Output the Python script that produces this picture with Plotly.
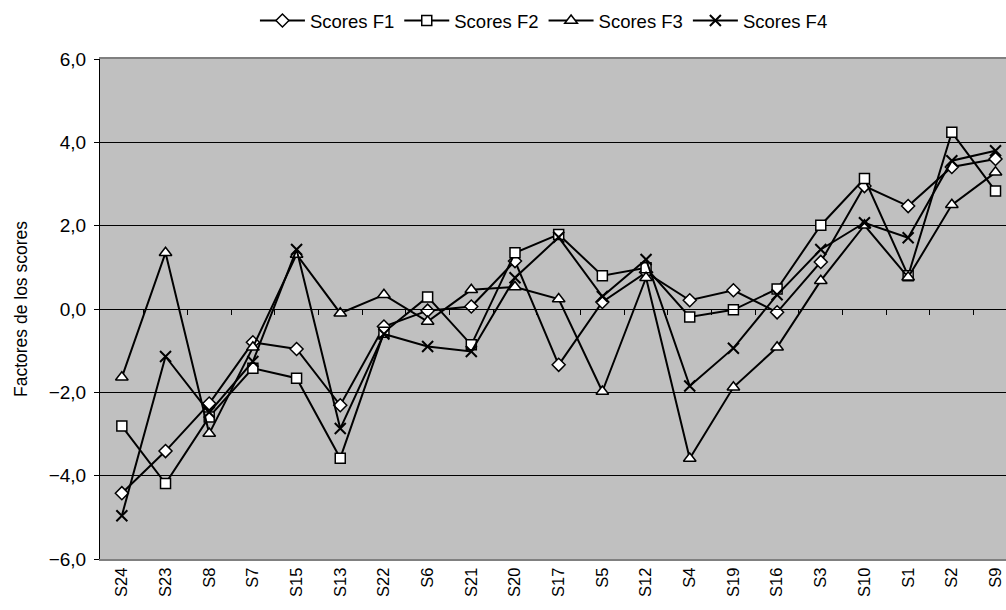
import plotly.graph_objects as go

categories = ["S24", "S23", "S8", "S7", "S15", "S13", "S22", "S6", "S21", "S20", "S17",
              "S5", "S12", "S4", "S19", "S16", "S3", "S10", "S1", "S2", "S9"]
scores_f1 = [-4.42, -3.41, -2.27, -0.80, -0.96, -2.31, -0.42, -0.04, 0.06, 1.15, -1.34,
             0.17, 0.88, 0.21, 0.45, -0.08, 1.13, 2.95, 2.47, 3.41, 3.60]
scores_f2 = [-2.81, -4.19, -2.59, -1.42, -1.66, -3.58, -0.56, 0.29, -0.86, 1.35, 1.79,
             0.80, 0.99, -0.19, -0.02, 0.48, 2.01, 3.13, 0.80, 4.24, 2.83]
scores_f3 = [-1.64, 1.35, -2.99, -0.92, 1.31, -0.10, 0.34, -0.30, 0.46, 0.53, 0.24,
             -1.98, 0.75, -3.59, -1.88, -0.92, 0.68, 2.01, 0.76, 2.50, 3.28]
scores_f4 = [-4.96, -1.14, -2.48, -1.26, 1.43, -2.87, -0.60, -0.90, -1.02, 0.75, 1.72,
             0.30, 1.19, -1.85, -0.94, 0.34, 1.43, 2.07, 1.71, 3.56, 3.80]
y_ticks = [-6, -4, -2, 0, 2, 4, 6]

series = [
    ("Scores F1", scores_f1, "diamond", 10, "white", 1.5),
    ("Scores F2", scores_f2, "square", 10, "white", 1.5),
    ("Scores F3", scores_f3, "triangle-up", 11, "white", 1.5),
    ("Scores F4", scores_f4, "x-thin-open", 11, "black", 2),
]

x_range = [-0.5, 20.24]

fig = go.Figure()
idx = list(range(len(categories)))
for name, vals, sym, size, fill, lw in series:
    fig.add_trace(go.Scatter(
        x=idx, y=vals, name=name, mode="lines+markers", cliponaxis=False,
        line=dict(color="black", width=2),
        marker=dict(symbol=sym, size=size, color=fill,
                    line=dict(color="black", width=lw)),
    ))

# invisible trace to activate secondary x axis (axis line at y=0 with ticks between categories)
fig.add_trace(go.Scatter(x=[0], y=[0], xaxis="x2", showlegend=False,
                         mode="markers", marker=dict(opacity=0), hoverinfo="skip"))

fig.update_layout(
    width=1006, height=610,
    margin=dict(l=100, r=0, t=59, b=51, autoexpand=False),
    paper_bgcolor="white",
    plot_bgcolor="#C0C0C0",
    separators=",.",
    font=dict(family="Liberation Sans, Arial, sans-serif", color="black", size=17),
    showlegend=True,
    legend=dict(orientation="h", x=0.49, xanchor="center", y=1.076, yanchor="middle",
                font=dict(size=18.5), bgcolor="rgba(0,0,0,0)",
                itemwidth=45, tracegroupgap=0),
    xaxis=dict(
        range=x_range, tickmode="array", tickvals=idx, ticktext=categories,
        tickangle=-90, ticks="", showgrid=False, zeroline=False, automargin=False,
        showline=True, linecolor="#808080", linewidth=2, mirror=True,
        tickfont=dict(size=16.5), ticklabeloverflow="allow",
    ),
    xaxis2=dict(
        overlaying="x", anchor="free", position=0.5, side="bottom",
        range=x_range, tickmode="array",
        tickvals=[i + 0.5 for i in idx], showticklabels=False,
        ticks="outside", ticklen=5, tickcolor="black", tickwidth=1,
        showline=True, linecolor="black", linewidth=1, showgrid=False, zeroline=False,
        automargin=False,
    ),
    yaxis=dict(
        range=[-6, 6], tickmode="array", tickvals=y_ticks, tickformat=".1f",
        showgrid=True, gridcolor="black", gridwidth=1, zeroline=False,
        showline=True, linecolor="black", linewidth=1, automargin=False,
        ticks="outside", ticklen=5, tickcolor="black", ticklabelstandoff=4,
        title=dict(text="Factores de los scores", font=dict(size=17.5), standoff=16),
        tickfont=dict(size=19),
    ),
)

fig.write_html(
    "out.html",
    config={"displayModeBar": False},
    post_script="document.body.style.margin='0';document.body.style.overflow='hidden';",
)
